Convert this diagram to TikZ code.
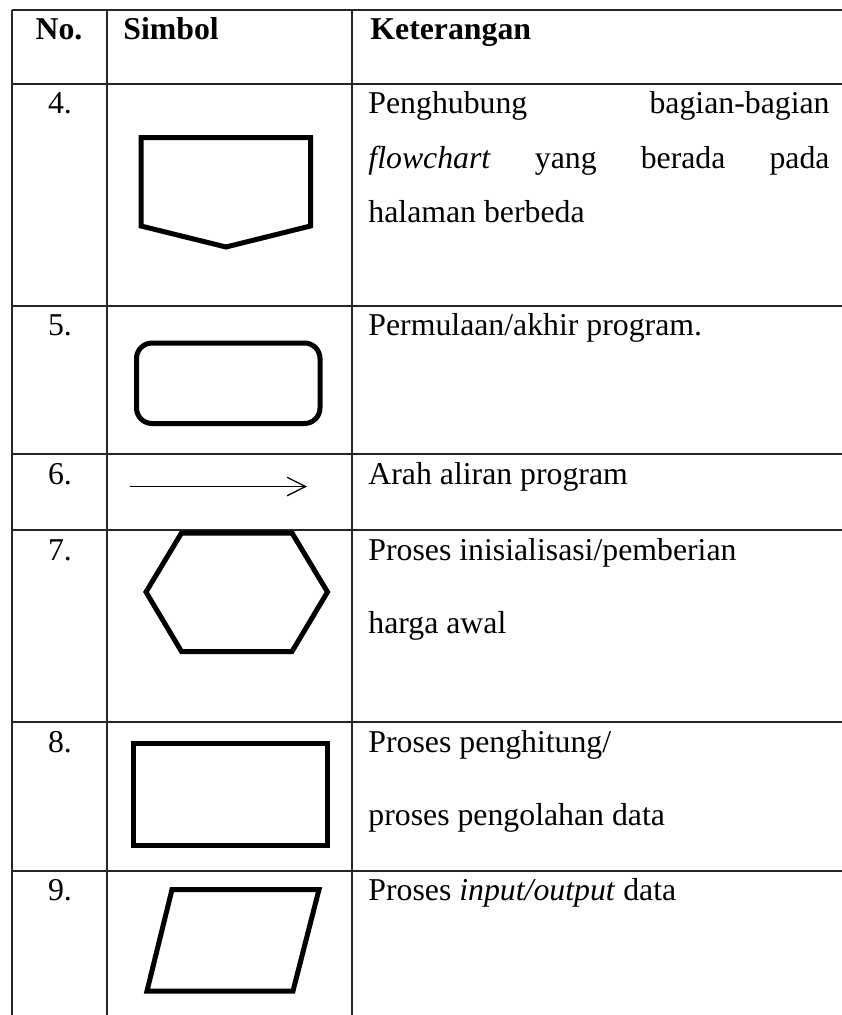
\documentclass[tikz,border=0pt]{standalone}
\usepackage{fontspec}
\setmainfont{Liberation Serif}
\usetikzlibrary{arrows.meta}
\begin{document}
\begin{tikzpicture}[x=0.45pt,y=-0.45pt,
  rule/.style={line width=0.65pt, draw=black!85},
  symb/.style={line width=2.25pt, line join=miter, draw=black},
  txt/.style={anchor=base west, inner sep=0pt, font=\fontsize{14.3}{17}\selectfont},
  num/.style={anchor=base, inner sep=0pt, font=\fontsize{14.3}{17}\selectfont},
  head/.style={anchor=base west, inner sep=0pt, font=\fontsize{14.3}{17}\selectfont\bfseries}]
\useasboundingbox (0,0) rectangle (842,1015);

% table rules
\foreach \y in {10,84,306,454,530,722,871} \draw[rule] (12,\y) -- (842,\y);
\foreach \x in {12,107,352} \draw[rule] (\x,10) -- (\x,1015);

% header
\node[head, anchor=base] (hno) at (59,39) {No.};
\node[head] (hsym) at (123,39) {Simbol};
\node[head] (hket) at (370,39) {Keterangan};

% row 4: off-page connector
\node[num] (n4) at (60,113) {4.};
\draw[symb] (141,137.5) -- (310.5,137.5) -- (310.5,226) -- (226,247) -- (141,226) -- cycle;
\node[txt] (t4a) at (368,113) {\makebox[207.5pt][s]{Penghubung bagian-bagian}};
\node[txt] (t4b) at (368,168) {\makebox[207.5pt][s]{\textit{flowchart} yang berada pada}};
\node[txt] (t4c) at (368,222) {halaman berbeda};

% row 5: terminator
\node[num] (n5) at (60,335) {5.};
\draw[symb, rounded corners=7pt] (136.5,343) rectangle (320,423.5);
\node[txt] (t5) at (368,335) {Permulaan/akhir program.};

% row 6: flow line
\node[num] (n6) at (60,484) {6.};
\coordinate (arrS) at (130,486.5);
\coordinate (arrE) at (307,486.5);
\draw[line width=0.6pt, -{Straight Barb[length=8.3pt,width=8.3pt]}] (arrS) -- (arrE);
\node[txt] (t6) at (368,484) {Arah aliran program};

% row 7: preparation
\node[num] (n7) at (60,560) {7.};
\draw[symb] (181.5,533) -- (292,533) -- (327.5,592) -- (292,651.5) -- (181.5,651.5) -- (146,592) -- cycle;
\node[txt] (t7a) at (368,560) {Proses inisialisasi/pemberian};
\node[txt] (t7b) at (368,633) {harga awal};

% row 8: process
\node[num] (n8) at (60,752) {8.};
\draw[symb] (133,743) rectangle (327.5,845);
\node[txt] (t8a) at (368,752) {Proses penghitung/};
\node[txt] (t8b) at (368,825) {proses pengolahan data};

% row 9: input/output
\node[num] (n9) at (60,900) {9.};
\draw[symb] (172,889.5) -- (319,889.5) -- (293,991) -- (147,991) -- cycle;
\node[txt] (t9) at (368,900) {Proses \textit{input/output} data};
\end{tikzpicture}
\end{document}
